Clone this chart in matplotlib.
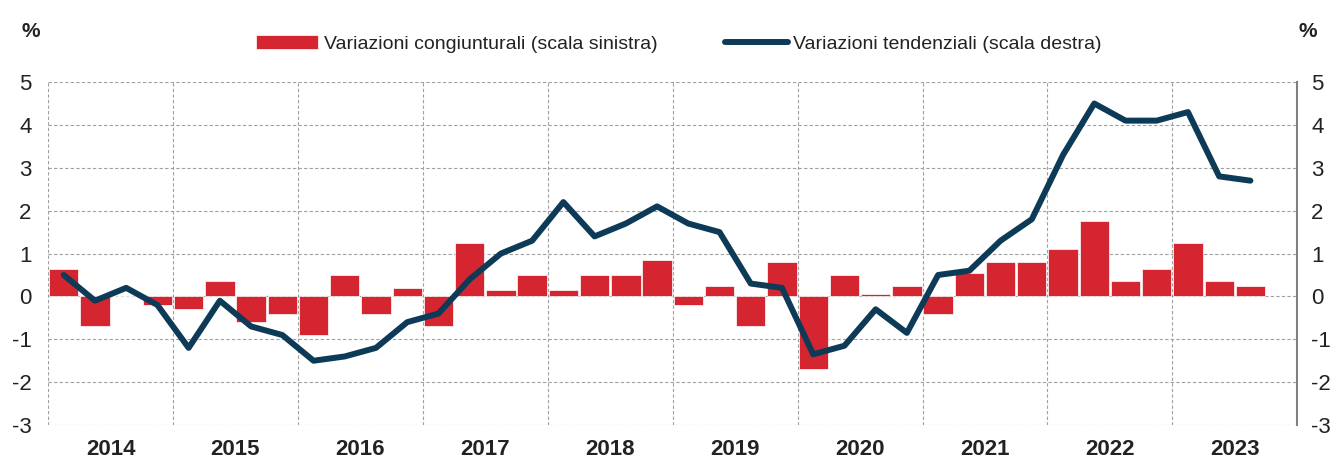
import matplotlib
matplotlib.use("Agg")
import matplotlib.pyplot as plt
import numpy as np

# quarterly data, 2014 Q1 - 2023 Q3
years = ['2014', '2015', '2016', '2017', '2018', '2019', '2020', '2021', '2022', '2023']
congiunturali = [0.65, -0.7, 0.0, -0.2,
                 -0.3, 0.35, -0.6, -0.4,
                 -0.9, 0.5, -0.4, 0.2,
                 -0.7, 1.25, 0.15, 0.5,
                 0.15, 0.5, 0.5, 0.85,
                 -0.2, 0.25, -0.7, 0.8,
                 -1.7, 0.5, 0.05, 0.25,
                 -0.4, 0.55, 0.8, 0.8,
                 1.1, 1.75, 0.35, 0.65,
                 1.25, 0.35, 0.25]
tendenziali = [0.5, -0.1, 0.2, -0.2,
               -1.2, -0.1, -0.7, -0.9,
               -1.5, -1.4, -1.2, -0.6,
               -0.4, 0.4, 1.0, 1.3,
               2.2, 1.4, 1.7, 2.1,
               1.7, 1.5, 0.3, 0.2,
               -1.35, -1.15, -0.3, -0.85,
               0.5, 0.6, 1.3, 1.8,
               3.3, 4.5, 4.1, 4.1,
               4.3, 2.8, 2.7]

plt.rcParams['font.family'] = ['Liberation Sans', 'DejaVu Sans']
plt.rcParams['axes.unicode_minus'] = False

red = '#D52530'
navy = '#0D3B57'
txt = '#222222'

x = np.arange(len(congiunturali))

fig = plt.figure(figsize=(13.36, 4.61), dpi=100)
ax = fig.add_axes([0.036, 0.078, 0.935, 0.744])
ax2 = ax.twinx()

ax.bar(x, congiunturali, width=0.94, color=red, edgecolor='white', linewidth=0.5,
       label='Variazioni congiunturali (scala sinistra)', zorder=2)
ax2.plot(x, tendenziali, color=navy, linewidth=4.3, solid_capstyle='round',
         label='Variazioni tendenziali (scala destra)', zorder=3)

for a in (ax, ax2):
    a.set_ylim(-3, 5)
    a.set_xlim(-0.5, 4 * len(years) - 0.5)
    a.set_yticks(range(-3, 6))

# year boundaries as grid lines, year labels centred in each year
bounds = np.arange(len(years) + 1) * 4 - 0.5
ax.set_xticks(bounds[:-1])
ax.set_xticklabels([])
ax.set_xticks(np.arange(len(years)) * 4 + 1.5, minor=True)
ax.set_xticklabels(years, minor=True, fontsize=16, fontweight='bold', color=txt)
ax.tick_params(axis='x', which='both', length=0, pad=10)
ax.grid(axis='both', which='major', color='#A0A0A0', linestyle=(0, (3, 2)), linewidth=0.8)
ax.set_axisbelow(True)

ax.tick_params(axis='y', length=0, pad=12, labelsize=16, labelcolor=txt)
ax2.tick_params(axis='y', length=0, pad=10, labelsize=16, labelcolor=txt)

for s in ('top', 'left', 'bottom'):
    ax.spines[s].set_visible(False)
    ax2.spines[s].set_visible(False)
ax.spines['right'].set_visible(False)
ax2.spines['right'].set_color('#808080')
ax2.spines['right'].set_linewidth(1.5)

fig.text(0.016, 0.92, '%', fontsize=15, fontweight='bold', color=txt)
fig.text(0.972, 0.92, '%', fontsize=15, fontweight='bold', color=txt)

h1, l1 = ax.get_legend_handles_labels()
h2, l2 = ax2.get_legend_handles_labels()
fig.legend(h1 + h2, l1 + l2, loc='center', bbox_to_anchor=(0.508, 0.905), ncol=2,
           frameon=False, fontsize=14, handlelength=3.2, handletextpad=0.3,
           columnspacing=3.5, labelcolor=txt)

fig.savefig('out.png', dpi=100)
